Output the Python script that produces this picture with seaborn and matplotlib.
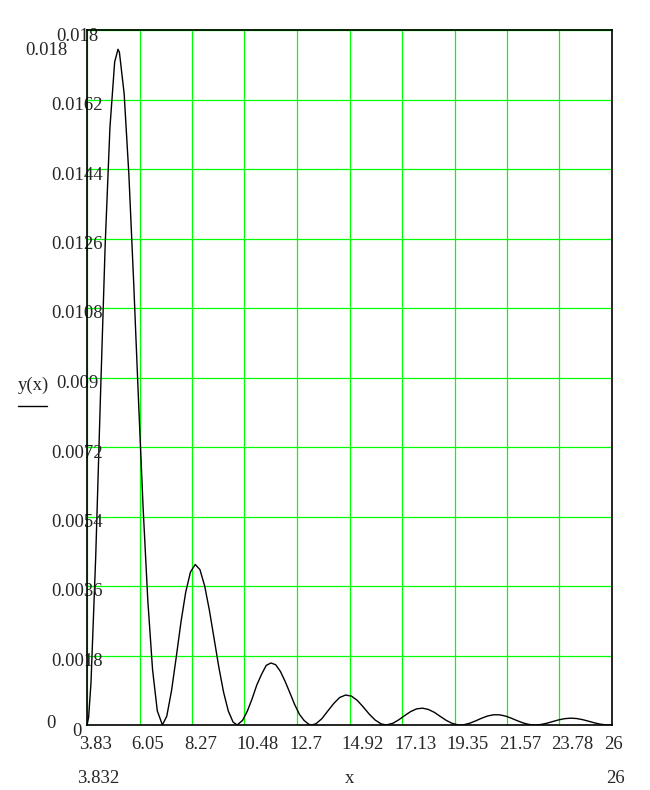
import numpy as np
import seaborn as sns
import matplotlib.pyplot as plt
from matplotlib.lines import Line2D
from matplotlib.transforms import blended_transform_factory, ScaledTranslation

sns.set_style("white")
plt.rcParams['font.family'] = ['Liberation Serif', 'DejaVu Serif']

# -------------------------------
# Data (y in units of 1e-4)
# -------------------------------
x_lobe1 = [3.832, 3.9, 4.0, 4.2, 4.4, 4.6, 4.8, 5.0, 5.14, 5.2, 5.4, 5.6, 5.8, 6.0, 6.2, 6.4, 6.6, 6.8, 7.016]
y_lobe1 = [0, 1.97, 10.89, 43.59, 84.98, 124.46, 154.69, 171.71, 175.0, 174.24, 163.55, 142.55, 115.01,
           85.07, 56.44, 32.21, 14.35, 3.68, 0]
x_lobe2 = [7.2, 7.4, 7.6, 7.8, 8.0, 8.2, 8.4, 8.6, 8.8, 9.0, 9.2, 9.4, 9.6, 9.8, 10.0, 10.17]
y_lobe2 = [2.28, 8.84, 17.55, 26.67, 34.40, 39.60, 41.57, 40.25, 36.03, 29.71, 22.34, 14.93, 8.45, 3.59, 0.76, 0]
x_lobe3 = [10.4, 10.6, 10.8, 11.0, 11.2, 11.4, 11.6, 11.8, 12.0, 12.2, 12.4, 12.6, 12.8, 13.0, 13.2, 13.32]
y_lobe3 = [1.19, 3.56, 6.72, 10.33, 13.10, 15.44, 16.07, 15.60, 13.86, 11.26, 8.32, 5.30, 2.78, 1.17, 0.17, 0]
x_lobe4 = [13.5, 13.75, 14.0, 14.25, 14.5, 14.75, 15.0, 15.25, 15.5, 15.75, 16.0, 16.25, 16.47]
y_lobe4 = [0.32, 1.64, 3.63, 5.56, 7.12, 7.76, 7.48, 6.34, 4.65, 2.81, 1.28, 0.29, 0]
x_lobe5 = [16.75, 17.0, 17.25, 17.5, 17.75, 18.0, 18.25, 18.5, 18.75, 19.0, 19.25, 19.5, 19.62]
y_lobe5 = [0.45, 1.36, 2.45, 3.48, 4.18, 4.36, 4.02, 3.27, 2.22, 1.20, 0.42, 0.03, 0]
x_lobe6 = [19.75, 20.0, 20.25, 20.5, 20.75, 21.0, 21.25, 21.5, 21.75, 22.0, 22.25, 22.5, 22.76]
y_lobe6 = [0.07, 0.47, 1.09, 1.77, 2.34, 2.65, 2.64, 2.32, 1.76, 1.11, 0.53, 0.13, 0]
x_lobe7 = [23.0, 23.25, 23.5, 23.75, 24.0, 24.25, 24.5, 24.75, 25.0, 25.25, 25.5, 25.75, 26.0]
y_lobe7 = [0.13, 0.46, 0.90, 1.33, 1.64, 1.77, 1.68, 1.40, 1.00, 0.57, 0.22, 0.03, 0.01]

x_ticks = [3.832, 6.049, 8.266, 10.482, 12.699, 14.916, 17.133, 19.350, 21.566, 23.783, 26.0]
x_tick_labels = ['3.83', '6.05', '8.27', '10.48', '12.7', '14.92', '17.13', '19.35', '21.57', '23.78', '26']
y_ticks = [0, 0.0018, 0.0036, 0.0054, 0.0072, 0.009, 0.0108, 0.0126, 0.0144, 0.0162, 0.018]
y_tick_labels = ['0', '0.0018', '0.0036', '0.0054', '0.0072', '0.009', '0.0108', '0.0126', '0.0144',
                 '0.0162', '0.018']

x = np.array(x_lobe1 + x_lobe2 + x_lobe3 + x_lobe4 + x_lobe5 + x_lobe6 + x_lobe7)
y = np.array(y_lobe1 + y_lobe2 + y_lobe3 + y_lobe4 + y_lobe5 + y_lobe6 + y_lobe7) * 1e-4

# -------------------------------
# Figure
# -------------------------------
W, H = 650, 790
fig = plt.figure(figsize=(W / 100, H / 100), dpi=100)
ax = fig.add_axes([87 / W, 1 - 725 / H, (612 - 87) / W, (725 - 30) / H])

green = '#00ff00'
fs = 13.5

ax.set_xlim(3.832, 26)
ax.set_ylim(0, 0.018 * 695 / 697)
ax.set_xticks(x_ticks)
ax.set_yticks(y_ticks)
ax.grid(True, color=green, linewidth=0.9, zorder=1)
ax.axhline(0.018, color=green, linewidth=1.2, clip_on=False, zorder=1)
ax.tick_params(length=0, labelbottom=False, labelleft=False)
for s in ax.spines.values():
    s.set_color('black')
    s.set_linewidth(1.2)
    s.set_zorder(3)

sns.lineplot(x=x, y=y, color='black', linewidth=1.0, ax=ax, zorder=2)
ax.set_xlabel('')
ax.set_ylabel('')

# tick labels, Mathcad style
tx = blended_transform_factory(ax.transData, fig.transFigure)
for v, lab in zip(x_ticks, x_tick_labels):
    ax.text(v, 1 - 749 / H, lab, transform=tx + ScaledTranslation(-8 / 100, 0, fig.dpi_scale_trans),
            ha='left', va='baseline', fontsize=fs)

ty = blended_transform_factory(fig.transFigure, ax.transData)
for v, lab in zip(y_ticks, y_tick_labels):
    ax.text(77 / W, v, lab, transform=ty + ScaledTranslation(0, -10.5 / 100, fig.dpi_scale_trans),
            ha='center', va='baseline', fontsize=fs, clip_on=False)

# range labels and axis names
fig.text(25 / W, 1 - 55 / H, '0.018', ha='left', va='baseline', fontsize=fs)
fig.text(46 / W, 1 - 728 / H, '0', ha='left', va='baseline', fontsize=fs)
fig.text(77 / W, 1 - 783 / H, '3.832', ha='left', va='baseline', fontsize=fs)
fig.text(606 / W, 1 - 783 / H, '26', ha='left', va='baseline', fontsize=fs)
fig.text(350 / W, 1 - 783 / H, 'x', ha='center', va='baseline', fontsize=fs)
fig.text(18 / W, 1 - 390 / H, 'y(x)', ha='left', va='baseline', fontsize=fs)
fig.add_artist(Line2D([18 / W, 47 / W], [1 - 406 / H, 1 - 406 / H], color='black', linewidth=1.0))

fig.savefig('out.png', dpi=100, facecolor='white')
